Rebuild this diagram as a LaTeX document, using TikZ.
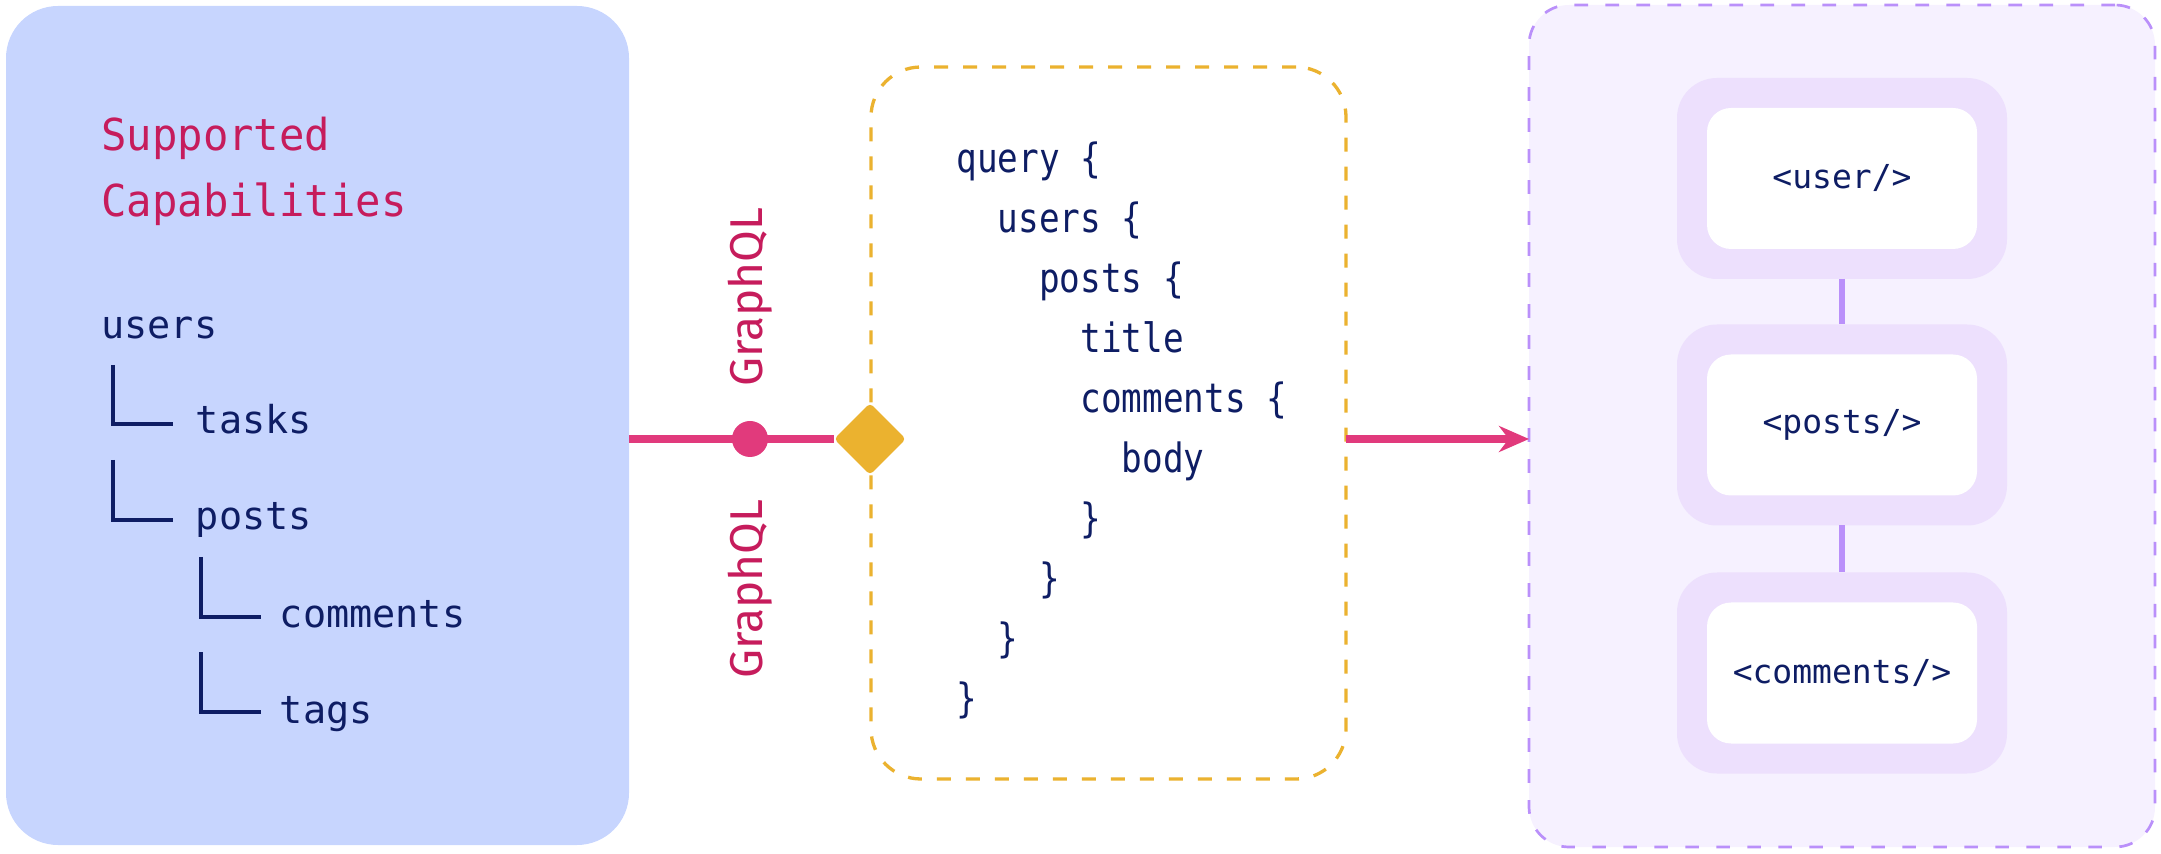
\documentclass[tikz,border=0pt]{standalone}
\usepackage{fontspec}
\setmainfont{Fira Sans}
\newfontfamily\monofont{DejaVu Sans Mono}
\newfontfamily\headfont[FakeStretch=0.96]{DejaVu Sans Mono}
\newfontfamily\codefont[FakeStretch=0.85]{DejaVu Sans Mono}
\usetikzlibrary{positioning,calc,shapes.geometric,arrows.meta}

\definecolor{capsblue}{RGB}{199,213,254}
\definecolor{navy}{RGB}{14,29,100}
\definecolor{crimson}{RGB}{198,28,92}
\definecolor{wirepink}{RGB}{225,58,124}
\definecolor{gold}{RGB}{235,178,47}
\definecolor{lilac}{RGB}{246,241,255}
\definecolor{lilacpad}{RGB}{237,224,253}
\definecolor{violet}{RGB}{186,144,250}

\tikzset{
  panel/.style={inner sep=0pt, outer sep=0pt},
  capsbox/.style={panel, fill=capsblue, rounded corners=26pt, minimum width=311.5pt, minimum height=419.5pt},
  querybox/.style={panel, draw=gold, fill=white, line width=1.65pt, dash pattern=on 7pt off 7.5pt, rounded corners=25pt, minimum width=237.5pt, minimum height=356pt},
  viewbox/.style={panel, draw=violet, fill=lilac, line width=1.35pt, dash pattern=on 6.8pt off 8.7pt, rounded corners=20pt, minimum width=313pt, minimum height=421pt},
  pad/.style={panel, fill=lilacpad, rounded corners=20pt, minimum width=165pt, minimum height=100.5pt},
  card/.style={panel, fill=white, rounded corners=12pt, minimum width=135pt, minimum height=70.5pt, text=navy, font=\monofont\fontsize{16.5pt}{20pt}\selectfont},
  field/.style={inner sep=0pt, anchor=base west, text=navy, font=\monofont\fontsize{19.25pt}{23pt}\selectfont},
  branch/.style={draw=navy, line width=1.65pt},
  wire/.style={draw=wirepink, line width=4pt},
  link/.style={draw=violet, line width=3pt},
  gate/.style={diamond, fill=gold, inner sep=0pt, minimum width=36pt, minimum height=36pt, rounded corners=2pt},
  hub/.style={circle, fill=wirepink, inner sep=0pt, minimum size=18pt},
  gqllabel/.style={inner sep=0pt, rotate=90, text=crimson, font=\fontsize{23pt}{28pt}\selectfont},
}

\begin{document}
\begin{tikzpicture}[x=0.5pt,y=-0.5pt]
\useasboundingbox (0,0) rectangle (2161,854);

% left panel
\node[capsbox] (caps) at (317.5,425.5) {};
\node (title) [inner sep=0pt, anchor=base west, align=left, text=crimson, font=\headfont\fontsize{22pt}{33pt}\selectfont] at (101,216.7) {Supported\\Capabilities};
\node (users) [field] at (101,339) {users};
\node (tasks) [below right=47.5pt and 47.25pt of users.base west, field] {tasks};
\node (posts) [below=48pt of tasks.base west, field] {posts};
\node (comments) [below right=48.5pt and 42pt of posts.base west, field] {comments};
\node (tags) [below=48pt of comments.base west, field] {tags};
\draw[branch] ($(users.base west)+(12,26)$) |- ($(tasks.base west)+(-22.5,-10)$);
\draw[branch] ($(tasks.base west)+(-82.5,26)$) |- ($(posts.base west)+(-22.5,-10)$);
\draw[branch] ($(posts.base west)+(5.5,27)$) |- ($(comments.base west)+(-18.5,-10)$);
\draw[branch] ($(comments.base west)+(-78.5,25)$) |- ($(tags.base west)+(-18.5,-11)$);

% query
\node[querybox] (query) at (1108.5,423) {};
\node (code) [inner sep=0pt, anchor=base west, align=left, text=navy, font=\codefont\fontsize{20.2pt}{30pt}\selectfont] at (956,712) {query \{\\
\ \ users \{\\
\ \ \ \ posts \{\\
\ \ \ \ \ \ title\\
\ \ \ \ \ \ comments \{\\
\ \ \ \ \ \ \ \ body\\
\ \ \ \ \ \ \}\\
\ \ \ \ \}\\
\ \ \}\\
\}};
\node[gate] (gate) at (870,439) {};
\draw[wire] (caps.east |- gate) -- (gate.west);
\node[hub] (hub) [node distance=60pt, left of=gate] {};
\node (gqlup) [node distance=71pt, above of=hub, gqllabel] {GraphQL};
\node (gqldown) [node distance=75pt, below of=hub, gqllabel] {GraphQL};

% components
\node[viewbox] (view) at (1842,426) {};
\draw[wire, -{Stealth[length=15pt, width=13pt]}] (gate -| query.east) -- (gate -| view.west);
\node[pad] (userpad) at (1842,178.5) {};
\node[pad] (postspad) [node distance=123.25pt, below of=userpad] {};
\node[pad] (commentspad) [node distance=124pt, below of=postspad] {};
\draw[link] (userpad) -- (postspad);
\draw[link] (postspad) -- (commentspad);
\node[card] (user) at (userpad) {<user/>};
\node[card] (postscard) at (postspad) {<posts/>};
\node[card] (commentscard) at (commentspad) {<comments/>};
\end{tikzpicture}
\end{document}
